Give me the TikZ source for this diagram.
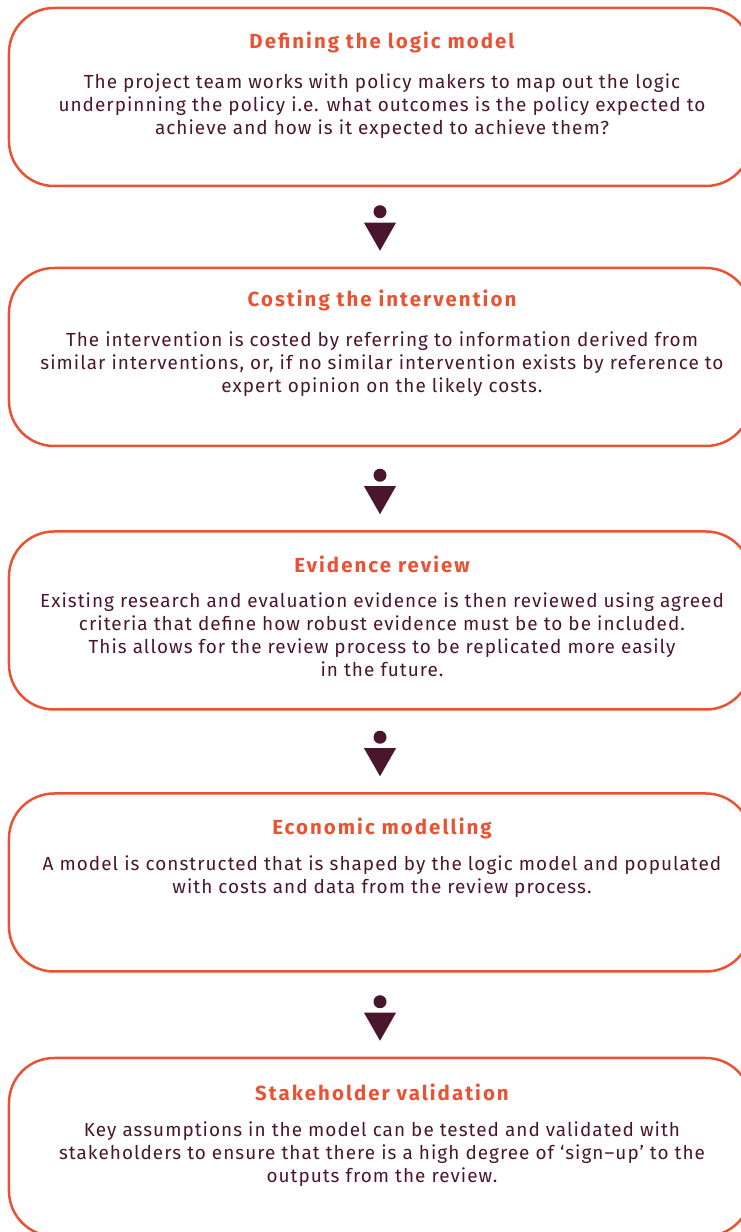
\documentclass[tikz,border=0pt]{standalone}
\usepackage{fontspec}
\setmainfont{Fira Sans}
\newfontfamily\stagefont[LetterSpace=5.5]{Fira Sans}
\newfontfamily\headfont[LetterSpace=10.0]{Fira Sans}
\usetikzlibrary{positioning}
\definecolor{flame}{RGB}{234,82,52}
\definecolor{plum}{RGB}{74,22,46}
\tikzset{
        % Outline of each stage
        stagebox/.style={draw=flame, line width=2.5bp, rounded corners=45bp, minimum width=742bp, minimum height=178bp},
        % Stage headings
        stagetitle/.style={inner sep=0pt, text=flame, font=\headfont\fontsize{20.5}{23}\selectfont\bfseries},
        % Stage descriptions
        stagetext/.style={inner sep=0pt, align=center, text=plum, font=\stagefont\fontsize{19}{23}\selectfont},
        % Dot and down triangle between stages
        stepdot/.style={circle, fill=plum, inner sep=0pt, minimum size=13bp}
}
\begin{document}
\begin{tikzpicture}[x=1bp, y=1bp]
    \useasboundingbox (0,0) rectangle (741,1232);
    \node[stagebox] (box1) at (380,1135) {};
    \node[stagebox] (box2) at (380,875) {};
    \node[stagebox] (box3) at (380,611.5) {};
    \node[stagebox] (box4) at (380,349.5) {};
    \node[stagebox] (box5) at (380,85) {};

    \node[stagetitle] (title1) at ([xshift=2bp, yshift=-36bp]box1.north) {Defining the logic model};
    \node[stagetext, below=20bp of title1] (text1) {The project team works with policy makers to map out the logic\\
        underpinning the policy i.e. what outcomes is the policy expected to\\
        achieve and how is it expected to achieve them?};

    \node[stagetitle] (title2) at ([xshift=2bp, yshift=-34bp]box2.north) {Costing the intervention};
    \node[stagetext, below=20bp of title2] (text2) {The intervention is costed by referring to information derived from\\
        similar interventions, or, if no similar intervention exists by reference to\\
        expert opinion on the likely costs.};

    \node[stagetitle] (title3) at ([xshift=2bp, yshift=-34bp]box3.north) {Evidence review};
    \node[stagetext, below=20bp of title3] (text3) {Existing research and evaluation evidence is then reviewed using agreed\\
        criteria that define how robust evidence must be to be included.\\
        This allows for the review process to be replicated more easily\\
        in the future.};

    \node[stagetitle] (title4) at ([xshift=2bp, yshift=-36bp]box4.north) {Economic modelling};
    \node[stagetext, below=17bp of title4] (text4) {A model is constructed that is shaped by the logic model and populated\\
        with costs and data from the review process.};

    \node[stagetitle] (title5) at ([xshift=2bp, yshift=-36bp]box5.north) {Stakeholder validation};
    \node[stagetext, below=20bp of title5] (text5) {Key assumptions in the model can be tested and validated with\\
        stakeholders to ensure that there is a high degree of ‘sign–up’ to the\\
        outputs from the review.};

    % step marks
    \foreach \a/\b [count=\i] in {box1/box2, box2/box3, box3/box4, box4/box5} {
        \node[stepdot] (dot\i) at ([yshift=55bp]\b.north) {};
        \fill[plum] ([xshift=-16bp, yshift=44bp]\b.north) -- ([xshift=16bp, yshift=44bp]\b.north)
            -- ([yshift=16bp]\b.north) -- cycle;
    }
\end{tikzpicture}
\end{document}
